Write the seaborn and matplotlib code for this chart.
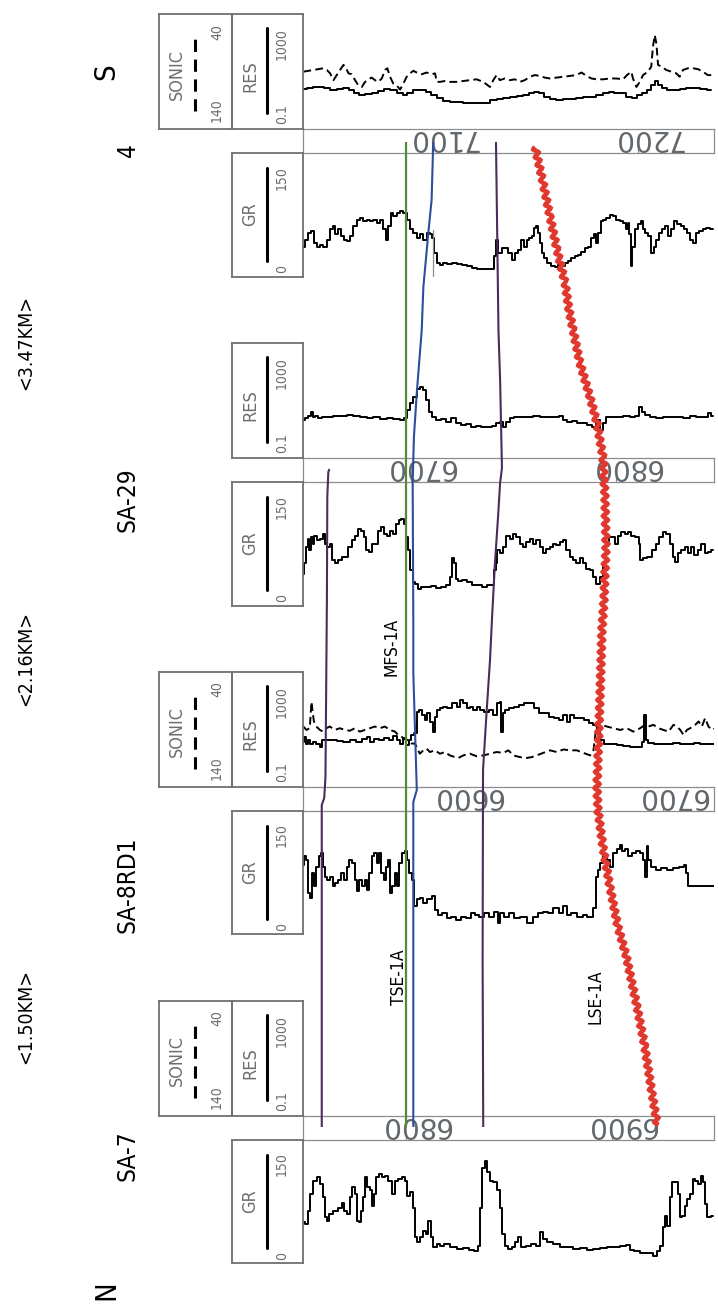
import matplotlib
matplotlib.use("Agg")
import matplotlib.pyplot as plt
import seaborn as sns
import numpy as np

W, H = 718, 1310

# ------------------------------------------------------------------ data
WELLS = ["4", "SA-29", "SA-8RD1", "SA-7"]
DISTANCES = ["<3.47KM>", "<2.16KM>", "<1.50KM>"]
HORIZONS = ["MFS-1A", "TSE-1A", "LSE-1A"]
DATUM_DEPTH = {"4": 7087.5, "SA-29": 6697.9, "SA-8RD1": 6575.2, "SA-7": 6800.1}
DEPTH_TICKS = {"4": [7100, 7200], "SA-29": [6700, 6800],
               "SA-8RD1": [6600, 6700], "SA-7": [6800, 6900]}
HAS_SONIC = {"4": True, "SA-29": False, "SA-8RD1": True, "SA-7": True}
GR_LABELS = ("0", "150")
RES_LABELS = ("0.1", "1000")
SONIC_LABELS = ("140", "40")
W4_MARKER_DEPTH = 7100.3

# (depth ft, GR API)
SA7_GR = [(6750.1, 53), (6751.7, 50), (6752.5, 71), (6754.1, 97), (6755.8, 118), (6757.4, 124),
          (6759.0, 113), (6759.8, 92), (6761.1, 61), (6761.8, 55), (6763.0, 66), (6765.5, 71),
          (6767.9, 76), (6769.5, 84), (6770.3, 71), (6772.0, 66), (6773.3, 92), (6774.4, 108),
          (6775.7, 97), (6776.5, 55), (6777.6, 53), (6778.4, 71), (6779.3, 92), (6780.6, 124),
          (6781.7, 108), (6782.8, 103), (6783.8, 79), (6784.9, 97), (6786.1, 124), (6787.4, 129),
          (6789.0, 124), (6790.6, 126), (6792.2, 118), (6793.8, 97), (6795.1, 118), (6797.1, 121),
          (6798.7, 124), (6800.3, 118), (6801.1, 95), (6802.8, 100), (6803.9, 76), (6804.9, 29),
          (6806.0, 21), (6807.6, 29), (6809.2, 39), (6810.4, 34), (6811.3, 55), (6812.5, 29),
          (6814.1, 13), (6815.7, 18), (6817.3, 16), (6819.8, 19), (6823.0, 14), (6826.3, 11),
          (6829.5, 12), (6831.9, 9), (6834.4, 7), (6835.7, 16), (6836.3, 76), (6837.6, 139),
          (6838.9, 150), (6840.0, 132), (6841.7, 118), (6843.3, 116), (6844.9, 103), (6846.0, 76),
          (6847.3, 34), (6848.9, 16), (6850.6, 11), (6852.2, 13), (6853.8, 21), (6855.1, 29),
          (6857.1, 13), (6859.5, 16), (6861.9, 18), (6864.3, 16), (6866.0, 37), (6867.1, 26),
          (6870.0, 21), (6873.3, 18), (6876.5, 14), (6879.7, 13), (6883.0, 11), (6886.2, 12),
          (6889.5, 9), (6892.7, 11), (6895.9, 12), (6899.2, 13), (6902.4, 14), (6905.7, 16),
          (6908.1, 17), (6909.7, 9), (6912.2, 7), (6915.4, 5), (6918.6, 4), (6921.1, 0),
          (6922.7, 8), (6924.3, 16), (6925.1, 45), (6926.4, 63), (6927.6, 47), (6928.7, 92),
          (6930.0, 116), (6931.6, 117), (6932.9, 97), (6933.5, 61), (6934.8, 63), (6936.1, 79),
          (6937.3, 89), (6938.9, 97), (6940.0, 121), (6941.3, 118), (6942.6, 113), (6943.8, 126),
          (6944.9, 116), (6945.9, 82), (6947.0, 61), (6949.4, 62)]

SA8_GR = [(6525.1, 98), (6525.9, 111), (6527.0, 106), (6528.0, 53), (6528.8, 45), (6529.6, 85),
          (6530.7, 64), (6531.9, 95), (6533.2, 111), (6534.1, 116), (6535.1, 95), (6536.1, 79),
          (6537.2, 74), (6538.8, 79), (6540.0, 64), (6541.3, 69), (6542.9, 74), (6544.2, 85),
          (6545.3, 74), (6547.0, 95), (6548.1, 106), (6549.4, 101), (6550.7, 74), (6551.8, 56),
          (6553.0, 74), (6554.3, 64), (6555.6, 74), (6556.7, 58), (6557.8, 85), (6559.1, 111),
          (6560.4, 116), (6561.6, 101), (6562.4, 116), (6563.7, 85), (6564.8, 74), (6565.6, 95),
          (6566.9, 106), (6568.0, 53), (6568.9, 64), (6570.2, 85), (6571.3, 64), (6572.4, 101),
          (6573.7, 116), (6575.0, 119), (6576.2, 106), (6577.3, 85), (6578.3, 74), (6579.4, 32),
          (6581.0, 43), (6582.6, 45), (6584.3, 37), (6586.7, 43), (6588.6, 48), (6589.6, 27),
          (6591.6, 19), (6594.0, 22), (6596.1, 14), (6598.1, 16), (6600.5, 11), (6602.9, 16),
          (6605.4, 14), (6607.5, 22), (6609.4, 19), (6611.8, 16), (6614.3, 22), (6616.7, 16),
          (6619.1, 24), (6620.4, 6), (6621.6, 22), (6624.0, 16), (6626.4, 22), (6628.9, 14),
          (6632.1, 16), (6635.4, 6), (6637.8, 16), (6640.2, 22), (6642.7, 24), (6645.1, 22),
          (6648.3, 29), (6650.8, 22), (6652.4, 32), (6654.0, 19), (6656.4, 22), (6659.7, 16),
          (6662.1, 19), (6663.7, 16), (6665.4, 16), (6667.0, 29), (6667.8, 79), (6668.6, 90),
          (6670.2, 101), (6671.9, 111), (6673.5, 106), (6675.1, 95), (6676.7, 116), (6678.3, 122),
          (6679.6, 129), (6680.8, 119), (6682.4, 122), (6684.0, 111), (6685.6, 116), (6688.1, 119),
          (6689.7, 116), (6690.8, 106), (6691.8, 79), (6692.5, 127), (6693.4, 106), (6695.4, 95),
          (6697.8, 90), (6700.2, 93), (6703.5, 90), (6706.7, 93), (6709.2, 95), (6710.8, 98),
          (6711.9, 85), (6712.7, 65), (6725.4, 65)]

# (depth ft, resistivity ohm.m)
SA8_RES = [(6525.1, 2.3), (6525.9, 4.0), (6526.7, 1.9), (6528.0, 2.8), (6529.1, 1.9), (6530.7, 2.3),
           (6532.4, 1.9), (6534.0, 1.3), (6534.8, 2.8), (6536.4, 2.8), (6539.7, 2.8), (6542.9, 2.6),
           (6546.2, 2.3), (6549.4, 2.8), (6552.6, 2.3), (6555.1, 3.0), (6556.7, 4.0), (6558.3, 2.3),
           (6560.7, 3.0), (6563.2, 2.8), (6565.6, 3.3), (6568.0, 2.8), (6569.7, 4.3), (6571.3, 2.8),
           (6572.9, 1.9), (6574.5, 3.3), (6575.7, 1.6), (6577.0, 2.8), (6578.3, 4.8), (6579.4, 5.7),
           (6581.0, 60), (6582.2, 72), (6583.5, 42), (6584.8, 24), (6585.9, 50), (6587.5, 20),
           (6588.6, 6.8), (6589.6, 35), (6590.8, 72), (6592.4, 86), (6594.0, 103), (6596.4, 86),
           (6598.9, 148), (6600.5, 103), (6602.1, 212), (6603.7, 148), (6605.4, 86), (6607.0, 103),
           (6608.6, 72), (6610.2, 103), (6611.8, 72), (6614.3, 60), (6616.7, 72), (6618.3, 42),
           (6620.0, 148), (6621.1, 177), (6621.7, 6.8), (6622.4, 50), (6624.0, 72), (6626.4, 86),
           (6628.9, 103), (6631.3, 124), (6633.7, 148), (6636.2, 148), (6638.6, 86), (6641.0, 50),
           (6643.5, 50), (6645.9, 35), (6648.3, 29), (6650.8, 24), (6652.4, 42), (6654.0, 20),
           (6655.6, 42), (6658.1, 29), (6660.5, 29), (6662.9, 24), (6665.4, 17), (6667.0, 14),
           (6668.6, 6.8), (6670.2, 2.8), (6672.7, 1.9), (6675.9, 1.8), (6679.2, 1.6), (6682.4, 1.45),
           (6685.6, 1.3), (6688.9, 1.25), (6690.5, 2.3), (6691.3, 42), (6692.1, 2.8), (6693.8, 2.1),
           (6697.0, 1.9), (6700.2, 1.8), (6703.5, 1.9), (6706.7, 2.1), (6710.0, 1.8), (6713.2, 1.9),
           (6716.5, 2.1), (6719.7, 1.9), (6723.0, 1.8), (6725.4, 1.8)]

# (depth ft, sonic us/ft)
SA8_SONIC = [(6525.1, 88), (6526.7, 92), (6528.3, 90), (6529.1, 59), (6529.6, 69), (6530.3, 82),
             (6531.5, 88), (6533.2, 92), (6534.8, 94), (6536.4, 90), (6538.0, 88), (6540.5, 92),
             (6542.9, 90), (6545.3, 92), (6547.8, 93), (6550.2, 90), (6552.6, 94), (6555.1, 92),
             (6557.5, 90), (6559.9, 88), (6562.4, 90), (6564.8, 88), (6567.2, 92), (6569.7, 94),
             (6571.3, 98), (6572.9, 100), (6574.5, 103), (6576.2, 104), (6577.8, 108), (6579.4, 108),
             (6581.8, 120), (6583.5, 116), (6585.1, 114), (6586.7, 118), (6589.1, 116), (6591.6, 120),
             (6594.0, 118), (6596.4, 122), (6598.9, 124), (6600.5, 125), (6602.9, 122), (6606.2, 120),
             (6609.4, 123), (6612.7, 122), (6615.9, 120), (6619.1, 118), (6622.4, 119), (6624.8, 116),
             (6627.3, 122), (6630.5, 124), (6633.7, 125), (6636.2, 124), (6638.6, 122), (6641.8, 119),
             (6645.1, 116), (6648.3, 118), (6651.6, 115), (6654.8, 116), (6658.1, 116), (6661.3, 119),
             (6664.6, 122), (6666.2, 116), (6667.8, 84), (6670.2, 86), (6672.7, 88), (6675.9, 90),
             (6679.2, 92), (6682.4, 90), (6685.6, 94), (6688.9, 90), (6691.3, 86), (6692.9, 88),
             (6695.4, 86), (6697.8, 90), (6700.2, 92), (6702.7, 94), (6705.1, 86), (6706.7, 88),
             (6708.4, 92), (6710.0, 98), (6711.6, 92), (6713.2, 90), (6715.7, 86), (6717.3, 82),
             (6718.9, 88), (6720.5, 78), (6722.1, 88), (6723.8, 92), (6725.4, 90)]

SA29_GR = [(6647.9, 39), (6648.7, 55), (6649.5, 81), (6650.3, 94), (6651.1, 76), (6651.9, 97),
           (6652.8, 86), (6653.6, 99), (6655.2, 92), (6656.8, 94), (6657.6, 102), (6658.9, 86),
           (6660.0, 81), (6661.2, 86), (6662.5, 60), (6664.1, 55), (6665.7, 61), (6668.1, 65),
           (6670.6, 81), (6672.2, 92), (6673.8, 99), (6675.4, 110), (6676.7, 107), (6677.8, 97),
           (6679.0, 76), (6680.3, 73), (6681.9, 86), (6683.5, 86), (6685.1, 107), (6686.4, 113),
           (6687.5, 102), (6689.2, 99), (6690.8, 107), (6692.4, 102), (6693.5, 118), (6694.8, 123),
           (6696.1, 126), (6697.2, 118), (6698.1, 97), (6699.4, 76), (6700.5, 44), (6701.6, 26),
           (6702.9, 23), (6704.5, 15), (6706.1, 18), (6708.6, 18), (6711.0, 19), (6713.4, 17),
           (6715.9, 18), (6718.3, 21), (6719.9, 34), (6720.7, 63), (6721.5, 55), (6722.3, 31),
           (6723.9, 28), (6726.4, 29), (6728.8, 26), (6731.2, 21), (6733.7, 21), (6736.1, 18),
           (6738.5, 21), (6740.1, 21), (6740.9, 44), (6741.7, 55), (6742.6, 76), (6744.2, 71),
           (6745.8, 81), (6747.4, 99), (6749.0, 94), (6750.6, 102), (6752.3, 97), (6753.9, 86),
           (6755.5, 81), (6757.1, 89), (6758.7, 94), (6760.4, 86), (6762.0, 92), (6763.6, 81),
           (6765.2, 71), (6766.8, 78), (6768.4, 81), (6770.1, 86), (6771.7, 84), (6773.3, 89),
           (6774.9, 92), (6776.5, 76), (6778.2, 65), (6779.8, 60), (6781.4, 55), (6783.0, 63),
           (6784.6, 55), (6786.2, 47), (6787.9, 44), (6789.5, 34), (6791.1, 23), (6792.7, 34),
           (6794.3, 55), (6796.0, 86), (6796.8, 97), (6798.4, 97), (6800.0, 86), (6801.6, 99),
           (6803.2, 105), (6804.9, 102), (6806.5, 105), (6808.1, 99), (6810.5, 97), (6811.3, 86),
           (6812.1, 60), (6813.8, 63), (6816.2, 65), (6818.6, 76), (6820.2, 86), (6821.8, 97),
           (6823.5, 105), (6825.1, 102), (6826.7, 86), (6828.3, 65), (6829.1, 57), (6830.7, 71),
           (6832.4, 76), (6834.0, 81), (6835.6, 71), (6837.2, 81), (6838.8, 68), (6840.5, 76),
           (6842.1, 86), (6843.7, 71), (6845.3, 73), (6846.9, 76)]

SA29_RES = [(6647.9, 1.12), (6649.5, 1.35), (6650.8, 1.73), (6651.9, 2.8), (6653.1, 1.5), (6654.4, 1.73),
            (6656.0, 1.35), (6657.6, 1.5), (6660.8, 1.5), (6664.1, 1.73), (6667.3, 1.73), (6670.6, 1.93),
            (6673.8, 1.73), (6677.0, 1.5), (6680.3, 1.35), (6683.5, 1.5), (6686.7, 1.21), (6690.0, 1.35),
            (6693.2, 1.21), (6696.4, 1.12), (6697.2, 1.35), (6698.9, 3.3), (6700.5, 6.8), (6702.1, 14),
            (6703.7, 31), (6705.3, 39), (6707.0, 29), (6708.1, 9.8), (6709.4, 2.8), (6711.0, 1.5),
            (6713.4, 1.12), (6715.9, 1.21), (6718.3, 0.94), (6720.7, 1.35), (6723.1, 0.84), (6725.6, 0.65),
            (6728.0, 0.73), (6730.4, 0.51), (6732.8, 0.59), (6735.3, 0.51), (6738.5, 0.55), (6740.9, 0.59),
            (6742.6, 0.78), (6744.2, 0.94), (6745.8, 0.51), (6747.4, 0.94), (6749.0, 1.35), (6751.5, 1.5),
            (6754.7, 1.6), (6757.9, 1.5), (6761.2, 1.73), (6764.4, 1.5), (6767.6, 1.5), (6770.9, 1.6),
            (6773.3, 1.73), (6774.9, 1.12), (6777.3, 0.94), (6779.8, 1.0), (6782.2, 0.78), (6784.6, 0.84),
            (6787.1, 0.65), (6789.5, 0.55), (6791.1, 1.12), (6792.7, 0.38), (6794.3, 0.78), (6796.0, 1.5),
            (6798.4, 1.6), (6801.6, 1.5), (6804.9, 1.73), (6808.1, 1.5), (6810.5, 1.73), (6811.7, 4.4),
            (6812.9, 2.8), (6815.4, 1.93), (6817.8, 1.5), (6821.0, 1.35), (6824.3, 1.5), (6827.5, 1.6),
            (6830.7, 1.5), (6834.0, 1.35), (6837.2, 1.73), (6840.5, 1.5), (6843.7, 1.6), (6845.6, 2.3),
            (6846.9, 1.73)]

W4_GR = [(7037.5, 36), (7038.8, 47), (7040.5, 57), (7042.1, 60), (7043.2, 42), (7044.8, 36),
         (7046.4, 39), (7048.1, 36), (7049.7, 47), (7051.3, 63), (7052.4, 68), (7053.7, 55),
         (7055.3, 63), (7056.6, 52), (7057.8, 47), (7059.4, 44), (7061.0, 52), (7062.6, 68),
         (7064.2, 78), (7065.9, 81), (7067.5, 76), (7069.1, 78), (7070.7, 76), (7072.3, 78),
         (7073.9, 73), (7075.6, 78), (7077.2, 63), (7078.0, 47), (7079.3, 68), (7080.4, 89),
         (7082.0, 84), (7083.7, 89), (7085.3, 92), (7086.9, 89), (7088.5, 78), (7090.1, 63),
         (7091.7, 57), (7093.4, 49), (7095.0, 55), (7096.6, 47), (7098.2, 57), (7099.4, 55),
         (7100.3, 49), (7101.5, 26), (7103.1, 10), (7104.7, 7), (7106.3, 10), (7108.7, 8),
         (7111.2, 10), (7113.6, 9), (7116.0, 7), (7118.4, 6), (7120.9, 2), (7123.3, 1),
         (7125.7, 1), (7128.2, 0), (7129.8, 0), (7130.6, 21), (7131.4, 47), (7133.0, 26),
         (7134.6, 34), (7136.2, 34), (7137.9, 26), (7139.5, 15), (7141.1, 26), (7142.7, 31),
         (7144.3, 47), (7145.6, 36), (7146.8, 47), (7147.9, 49), (7149.2, 52), (7150.0, 65),
         (7151.1, 68), (7152.1, 57), (7152.8, 42), (7154.0, 26), (7155.3, 18), (7157.0, 10),
         (7158.9, 5), (7160.5, 3), (7162.1, 7), (7163.8, 5), (7165.4, 10), (7167.0, 13),
         (7168.6, 18), (7170.2, 21), (7171.8, 23), (7173.5, 27), (7175.1, 34), (7176.7, 36),
         (7178.0, 49), (7179.1, 55), (7180.3, 42), (7181.6, 57), (7182.4, 76), (7184.0, 78),
         (7185.6, 81), (7187.2, 86), (7188.8, 84), (7190.5, 78), (7192.1, 76), (7193.7, 73),
         (7194.8, 63), (7195.3, 73), (7196.4, 55), (7197.1, 5), (7197.7, 36), (7199.4, 63),
         (7201.0, 71), (7201.8, 76), (7202.9, 63), (7204.2, 57), (7205.8, 52), (7207.1, 26),
         (7208.3, 36), (7209.9, 47), (7211.0, 57), (7212.3, 63), (7213.9, 68), (7215.5, 52),
         (7217.2, 63), (7218.4, 76), (7220.1, 71), (7221.7, 68), (7223.3, 63), (7224.4, 57),
         (7226.1, 47), (7227.7, 42), (7228.8, 57), (7230.9, 60), (7232.5, 63), (7234.1, 65),
         (7235.8, 63), (7236.6, 64)]

W4_RES = [(7037.5, 1.35), (7040.8, 1.5), (7044.0, 1.67), (7046.4, 1.8), (7048.9, 1.5), (7052.1, 1.25),
          (7055.3, 1.35), (7058.6, 1.5), (7061.0, 1.25), (7063.4, 0.87), (7065.9, 0.73), (7069.1, 0.81),
          (7072.3, 0.94), (7075.6, 1.17), (7078.0, 1.35), (7081.2, 1.25), (7084.5, 0.94), (7086.9, 0.73),
          (7089.3, 0.94), (7092.6, 1.25), (7095.8, 1.25), (7098.2, 1.05), (7100.6, 0.73), (7103.9, 0.51),
          (7107.1, 0.39), (7110.4, 0.35), (7113.6, 0.35), (7116.8, 0.32), (7120.1, 0.30), (7123.3, 0.30),
          (7126.5, 0.32), (7129.8, 0.42), (7133.0, 0.46), (7136.2, 0.51), (7139.5, 0.61), (7142.7, 0.65),
          (7146.0, 0.73), (7148.4, 0.87), (7150.8, 1.05), (7153.2, 0.87), (7155.7, 0.61), (7158.9, 0.46),
          (7162.1, 0.42), (7165.4, 0.46), (7168.6, 0.46), (7171.8, 0.51), (7175.1, 0.57), (7178.3, 0.61),
          (7181.6, 0.73), (7184.8, 0.87), (7187.2, 1.05), (7189.6, 0.94), (7192.9, 0.87), (7196.1, 0.61),
          (7198.5, 0.55), (7201.0, 0.73), (7203.4, 0.87), (7205.8, 1.25), (7207.4, 2.15), (7209.1, 3.4),
          (7210.7, 2.15), (7213.1, 1.5), (7215.5, 1.25), (7218.8, 1.25), (7222.0, 1.35), (7225.2, 1.5),
          (7228.5, 1.5), (7231.7, 1.35), (7235.8, 1.25)]

W4_SONIC = [(7037.5, 91), (7039.9, 90), (7042.4, 89), (7044.8, 88), (7047.2, 87), (7048.9, 89),
            (7050.5, 93), (7052.1, 101), (7053.7, 95), (7055.3, 89), (7057.0, 83), (7058.3, 87),
            (7059.4, 93), (7061.0, 94), (7062.6, 101), (7064.2, 107), (7065.9, 109), (7067.5, 103),
            (7069.1, 100), (7070.7, 98), (7072.3, 101), (7073.9, 103), (7075.6, 99), (7077.2, 89),
            (7078.3, 87), (7079.6, 97), (7081.2, 105), (7082.8, 107), (7084.5, 112), (7086.1, 105),
            (7087.7, 97), (7089.3, 93), (7090.9, 90), (7092.6, 92), (7095.0, 94), (7097.4, 92),
            (7099.8, 94), (7101.5, 93), (7102.3, 103), (7103.9, 103), (7106.3, 102), (7108.7, 103),
            (7112.0, 103), (7115.2, 102), (7118.4, 101), (7121.7, 100), (7124.9, 103), (7128.2, 109),
            (7129.8, 101), (7131.4, 95), (7133.0, 101), (7135.4, 99), (7137.9, 101), (7140.3, 100),
            (7142.7, 103), (7145.1, 101), (7147.6, 97), (7150.0, 95), (7152.4, 96), (7154.9, 98),
            (7157.3, 99), (7160.5, 98), (7163.8, 97), (7167.0, 96), (7170.2, 95), (7172.7, 92),
            (7175.1, 96), (7177.5, 99), (7179.9, 100), (7183.2, 100), (7186.4, 99), (7189.6, 99),
            (7192.9, 100), (7194.8, 95), (7196.9, 91), (7197.7, 99), (7199.4, 109), (7201.0, 103),
            (7202.6, 95), (7205.0, 91), (7206.6, 85), (7207.4, 62), (7208.3, 48), (7209.1, 58),
            (7209.9, 83), (7211.5, 85), (7213.9, 89), (7216.3, 91), (7218.8, 93), (7220.4, 97),
            (7222.0, 89), (7224.4, 87), (7226.9, 87), (7229.3, 88), (7231.7, 91), (7234.1, 95),
            (7235.8, 95)]

GR_DATA = {"4": W4_GR, "SA-29": SA29_GR, "SA-8RD1": SA8_GR, "SA-7": SA7_GR}
RES_DATA = {"4": W4_RES, "SA-29": SA29_RES, "SA-8RD1": SA8_RES, "SA-7": None}
SONIC_DATA = {"4": W4_SONIC, "SA-29": None, "SA-8RD1": SA8_SONIC, "SA-7": None}

# correlation surfaces in the flattened section: (ft below datum, section row)
DATUM_LINE = [(0.0, 142), (0.0, 1127)]
BLUE_LINE = [(13.1, 142), (12.3, 200), (10.7, 233), (8.3, 287), (7.5, 330), (5.2, 390), (3.7, 437),
             (3.1, 483), (3.4, 620), (3.4, 672), (5.1, 790), (3.4, 802), (3.4, 1127)]
PURPLE_UPPER = [(-37.4, 469), (-37.9, 472), (-38.4, 497), (-38.6, 600), (-39.3, 777), (-39.9, 798),
                (-41.1, 805), (-41.1, 1127)]
PURPLE_LOWER = [(43.6, 142), (44.3, 250), (44.8, 330), (45.6, 380), (46.5, 468), (45.6, 483),
                (44.6, 517), (43.1, 563), (41.7, 617), (40.7, 660), (39.1, 710), (37.3, 770),
                (37.1, 960), (37.4, 1127)]
LSE_LINE = [(62.6, 147), (66.5, 183), (69.9, 217), (73.3, 250), (77.2, 283), (79.1, 310), (81.1, 330),
            (84.4, 363), (89.3, 397), (92.7, 423), (95.6, 457), (96.6, 497), (97.1, 547), (96.1, 600),
            (95.1, 630), (94.7, 660), (93.7, 727), (92.7, 787), (93.2, 810), (95.6, 847), (99.0, 887),
            (102.9, 927), (106.8, 955), (112.2, 1007), (116.0, 1047), (119.4, 1093), (121.4, 1117),
            (121.9, 1125)]

# ------------------------------------------------------------------ style / layout
sns.set_theme(style="white")
plt.rcParams["font.family"] = ["DejaVu Sans"]
plt.rcParams["font.stretch"] = "condensed"

GRAY_FRAME = "#6d7174"
GRAY_TEXT = "#6a6e71"
DEPTH_TEXT = "#62676b"
C_GREEN, C_BLUE, C_PURPLE, C_RED = "#548a3a", "#2e4d9c", "#4a2d5c", "#e0382f"

ROW_TOP = {"4": 14.3, "SA-29": 343.3, "SA-8RD1": 671.7, "SA-7": 1000.7}
RES_H, STRIP_H, GR_H = 115.0, 24.0, 123.5
X_SON, X_HDR, X_TRK, X_END = 159, 232, 303, 714
REL_WIN = (-50.2, 149.6)
GR_LIM = (-11.8, 183.2)
RES_LIM = (0.01766, 4560)
SON_LIM = (158.8, 23.5)

fig = plt.figure(figsize=(W / 100, H / 100), dpi=100)
fig.patch.set_facecolor("white")


def px_axes(x0, y0, x1, y1, z=1):
    return fig.add_axes([x0 / W, 1 - y1 / H, (x1 - x0) / W, (y1 - y0) / H], zorder=z)


def split(pairs):
    a = np.asarray(pairs, dtype=float)
    return a[:, 0], a[:, 1]


def curve(ax, pairs, dashed=False):
    d, v = split(pairs)
    kw = dict(color="black", linewidth=1.4, sort=False, estimator=None, legend=False)
    if dashed:
        kw["linestyle"] = (0, (4, 2.2))
    else:
        kw["drawstyle"] = "steps-mid"
    sns.lineplot(x=d, y=v, ax=ax, **kw)


def box(ax):
    ax.set_xlim(0, 1)
    ax.set_ylim(0, 1)
    ax.set_xticks([])
    ax.set_yticks([])
    ax.set_facecolor("none")
    for s in ax.spines.values():
        s.set_visible(True)
        s.set_color(GRAY_FRAME)
        s.set_linewidth(1.3)


def htext(ax, x, y, s, size):
    ax.text(x, y, s, rotation=90, ha="center", va="center", color=GRAY_TEXT,
            fontsize=size, transform=ax.transAxes)


for well in WELLS:
    top = ROW_TOP[well]
    xlim = (DATUM_DEPTH[well] + REL_WIN[0], DATUM_DEPTH[well] + REL_WIN[1])

    # --- resistivity / sonic track
    ax_r = px_axes(X_TRK, top, X_END, top + RES_H)
    ax_r.set_yscale("log")
    if RES_DATA[well] is not None:
        curve(ax_r, RES_DATA[well])
    ax_r.set_xlim(*xlim)
    ax_r.set_ylim(*RES_LIM)
    ax_r.set_axis_off()
    if SONIC_DATA[well] is not None:
        ax_s = px_axes(X_TRK, top, X_END, top + RES_H)
        curve(ax_s, SONIC_DATA[well], dashed=True)
        ax_s.set_xlim(*xlim)
        ax_s.set_ylim(*SON_LIM)
        ax_s.set_axis_off()

    # --- depth strip
    ax_d = px_axes(X_TRK, top + RES_H, X_END, top + RES_H + STRIP_H)
    ax_d.set_xlim(*xlim)
    ax_d.set_ylim(0, 1)
    ax_d.set_facecolor("none")
    ax_d.set_yticks([])
    ax_d.set_xticks(DEPTH_TICKS[well])
    ax_d.tick_params(axis="x", direction="in", length=4, width=0.9, color="#8a8d90",
                     bottom=True, top=False, labelbottom=False)
    for s in ax_d.spines.values():
        s.set_visible(True)
        s.set_color("#8a8d90")
        s.set_linewidth(0.9)
    for t in DEPTH_TICKS[well]:
        ax_d.text(t + 4.9, 0.62, str(t), rotation=180, ha="center", va="center",
                  color=DEPTH_TEXT, fontsize=20, fontstretch="normal",
                  transform=ax_d.get_xaxis_transform())

    # --- gamma ray track
    g_top = top + RES_H + STRIP_H
    ax_g = px_axes(X_TRK, g_top, X_END, g_top + GR_H)
    curve(ax_g, GR_DATA[well])
    if well == "4":
        ax_g.axvline(W4_MARKER_DEPTH, ymin=0.0, ymax=0.38, color="#8c8c8c", lw=0.9)
    ax_g.set_xlim(*xlim)
    ax_g.set_ylim(*GR_LIM)
    ax_g.set_axis_off()

    # --- headers
    h_res = px_axes(X_HDR, top, X_TRK, top + RES_H)
    box(h_res)
    htext(h_res, 0.254, 0.461, "RES", 13)
    h_res.axvline(0.489, ymin=0.139, ymax=0.878, color="black", lw=2.2)
    htext(h_res, 0.704, 0.13, RES_LABELS[0], 10)
    htext(h_res, 0.704, 0.739, RES_LABELS[1], 10)
    if HAS_SONIC[well]:
        h_son = px_axes(X_SON, top, X_HDR, top + RES_H)
        box(h_son)
        htext(h_son, 0.247, 0.478, "SONIC", 13)
        h_son.axvline(0.493, ymin=0.157, ymax=0.79, color="black", lw=2.2,
                      linestyle=(0, (4, 2.5)))
        htext(h_son, 0.795, 0.165, SONIC_LABELS[0], 10)
        htext(h_son, 0.795, 0.847, SONIC_LABELS[1], 10)
    h_gr = px_axes(X_HDR, g_top, X_TRK, g_top + GR_H)
    box(h_gr)
    htext(h_gr, 0.254, 0.506, "GR", 13)
    h_gr.axvline(0.489, ymin=0.126, ymax=0.879, color="black", lw=2.2)
    htext(h_gr, 0.704, 0.061, GR_LABELS[0], 10)
    htext(h_gr, 0.704, 0.80, GR_LABELS[1], 10)

# ------------------------------------------------------------------ correlation overlay
ov = fig.add_axes([0, 0, 1, 1], zorder=20)
ov.set_xlim((0 - 406.3) / 2.057, (W - 406.3) / 2.057)
ov.set_ylim(H, 0)
ov.set_axis_off()
ov.patch.set_alpha(0)
for pairs, col, lw in [(PURPLE_UPPER, C_PURPLE, 1.5), (PURPLE_LOWER, C_PURPLE, 1.5),
                       (DATUM_LINE, C_GREEN, 1.6), (BLUE_LINE, C_BLUE, 1.5)]:
    r, y = split(pairs)
    ov.plot(r, y, color=col, lw=lw, solid_capstyle="butt")
r, y = split(LSE_LINE)
red, = ov.plot(r, y, color=C_RED, lw=3.2, solid_capstyle="butt", solid_joinstyle="miter")
red.set_sketch_params(scale=2.4, length=8, randomness=1)

# ------------------------------------------------------------------ labels


def ftext(x, y, s, size, **kw):
    fig.text(x / W, 1 - y / H, s, rotation=90, ha="center", va="center",
             fontsize=size, color="black", **kw)


ftext(106, 72, "S", 21)
ftext(106, 1290, "N", 21)
for well, yc in zip(WELLS, [150, 500, 885, 1156]):
    ftext(128, yc, well, 17.5)
for dist, yc in zip(DISTANCES, [342, 658, 1016]):
    ftext(26, yc, dist, 14)
for name, (x, yc) in zip(HORIZONS, [(391, 647), (399, 977), (596, 997)]):
    ftext(x, yc, name, 12.5)

fig.savefig("out.png", dpi=100)
